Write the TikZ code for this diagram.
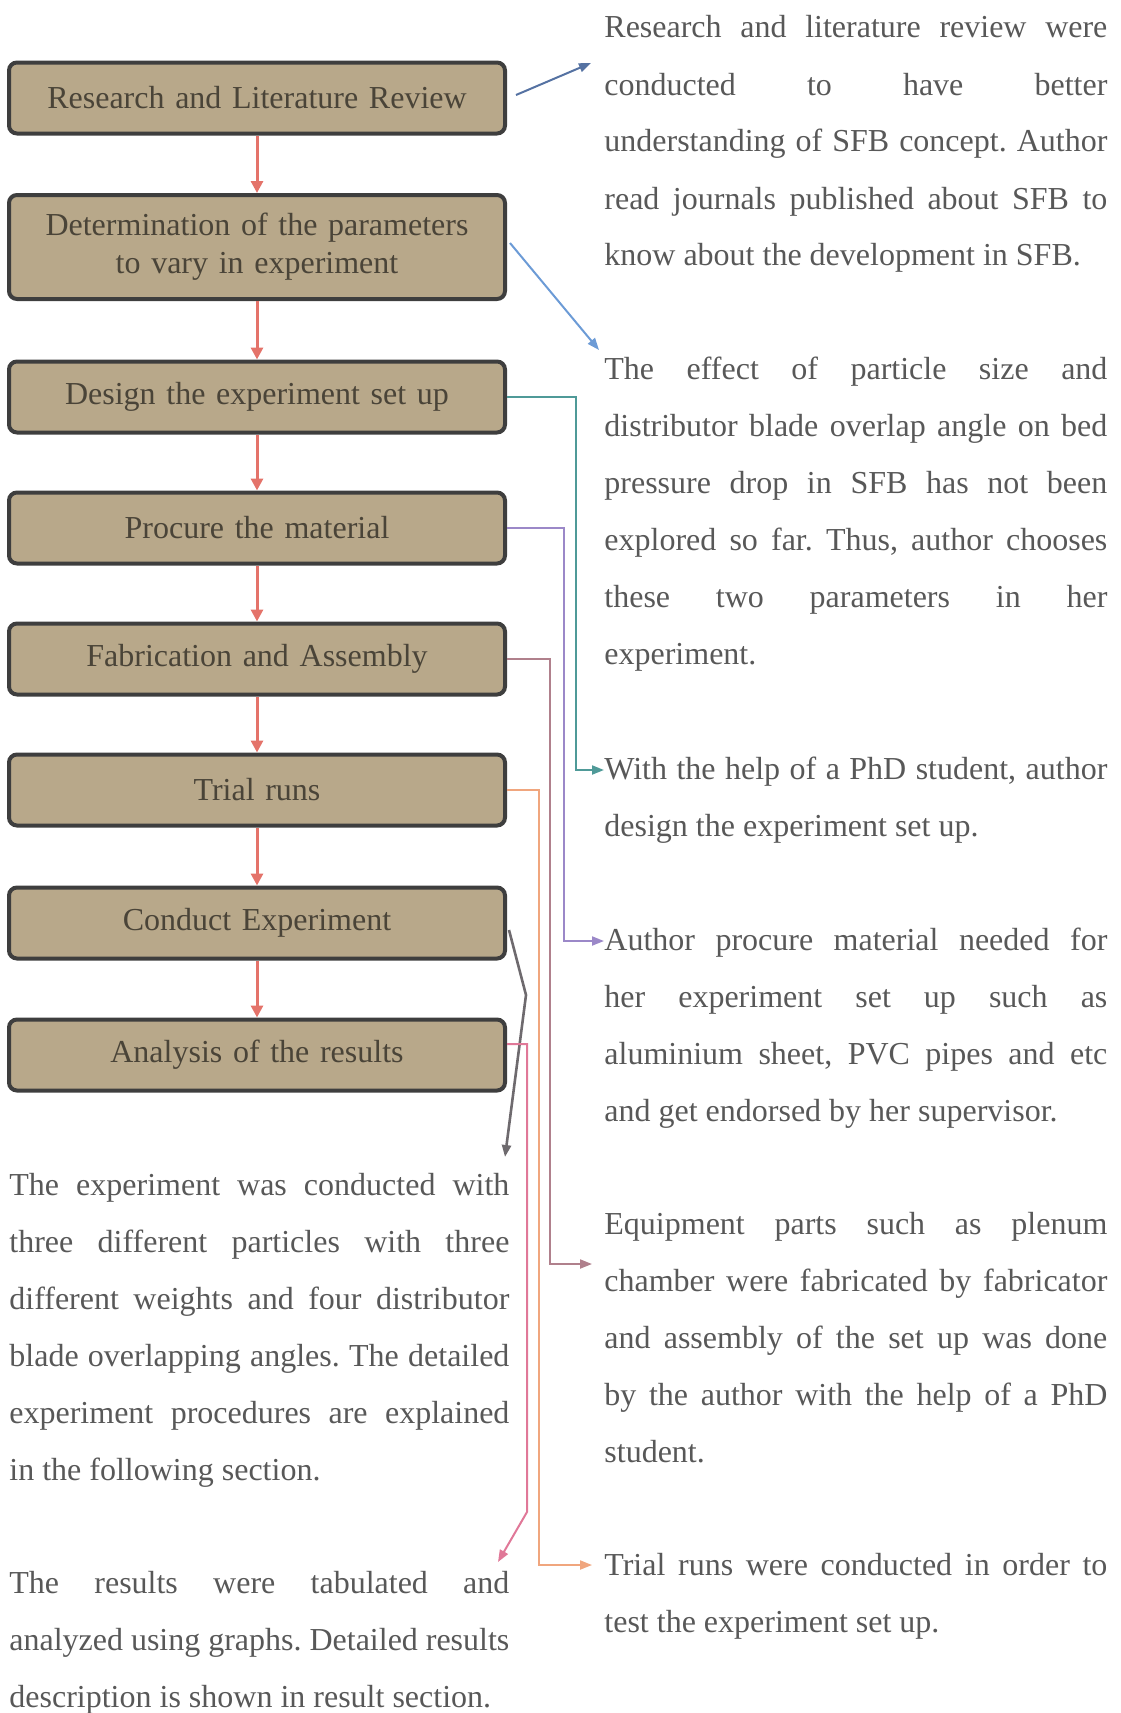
\documentclass[tikz,border=0pt]{standalone}
\usepackage{fontspec}
\setmainfont{Liberation Serif}
\usepackage{xcolor}
\usepackage{tikz}
\usetikzlibrary{calc, arrows.meta}
\tolerance=10000
\frenchspacing

\definecolor{wood}{HTML}{B8A88A}
\definecolor{boxline}{HTML}{3E3E3E}
\definecolor{boxtext}{HTML}{4A4438}
\definecolor{txtgray}{HTML}{585858}
\definecolor{flowred}{HTML}{E4736A}
\definecolor{linkA}{HTML}{5572A2}
\definecolor{linkB}{HTML}{6C9BD6}
\definecolor{linkC}{HTML}{4F9A98}
\definecolor{linkD}{HTML}{9B88C8}
\definecolor{linkE}{HTML}{B0808C}
\definecolor{linkF}{HTML}{F0A67E}
\definecolor{linkG}{HTML}{6E6A6E}
\definecolor{linkH}{HTML}{E07898}

\tikzset{
  stepbox/.style={draw=boxline, line width=2pt, rounded corners=4pt, fill=wood,
    text=boxtext, minimum width=248pt, text width=236pt, align=center,
    inner sep=0pt, font=\fontsize{16}{19}\selectfont},
  flow/.style={draw=flowred, line width=1.5pt, -{Triangle[length=6pt,width=6pt]}},
  link/.style={line width=1pt, -{Triangle[length=6pt,width=4.5pt]}},
  para/.style={text width=251.5pt, align=justify, inner sep=0pt, anchor=base west,
    text=txtgray, font=\fontsize{16}{28.5}\selectfont},
}

\begin{document}
\begin{tikzpicture}[x=0.5pt,y=-0.5pt]
      \useasboundingbox (0,0) rectangle (1120,1713);%

      \foreach \nm/\yy/\hh/\txt in {B1/98/35.5/{Research and Literature Review},
        B2/247/52/{Determination of the parameters\\to vary in experiment},
        B3/397/35.5/{Design the experiment set up}, B4/528/35.5/{Procure the material},
        B5/659/35.5/{Fabrication and Assembly}, B6/790/35.5/{Trial runs},
        B7/923/35.5/{Conduct Experiment}, B8/1055/35.5/{Analysis of the results}}%
        {\node[stepbox, minimum height=\hh pt] (\nm) at (257,\yy) {\txt};}%

      \foreach \a/\b in {B1/B2, B2/B3, B3/B4, B4/B5, B5/B6, B6/B7, B7/B8}%
        {\draw[flow] (\a) -- (\b);}%

      % descriptions
      \node[para] (T1) at (604,38) {Research and literature review were\linebreak
        conducted to have better\linebreak understanding of SFB concept. Author\linebreak
        read journals published about SFB to\linebreak know about the development in SFB.};%
      \node[para] (T2) at (604,379) {The effect of particle size and\linebreak
        distributor blade overlap angle on bed\linebreak pressure drop in SFB has not been\linebreak
        explored so far. Thus, author chooses\linebreak these two parameters in her\linebreak
        experiment.};%
      \node[para] (T3) at (604,779) {With the help of a PhD student, author\linebreak
        design the experiment set up.};%
      \node[para] (T4) at (604,950) {Author procure material needed for\linebreak
        her experiment set up such as\linebreak aluminium sheet, PVC pipes and etc\linebreak
        and get endorsed by her supervisor.};%
      \node[para] (T5) at (604,1234) {Equipment parts such as plenum\linebreak
        chamber were fabricated by fabricator\linebreak and assembly of the set up was done\linebreak
        by the author with the help of a PhD\linebreak student.};%
      \node[para] (T6) at (604,1575) {Trial runs were conducted in order to\linebreak
        test the experiment set up.};%
      \node[para, text width=250pt] (L1) at (9,1195) {The experiment was conducted with\linebreak
        three different particles with three\linebreak different weights and four distributor\linebreak
        blade overlapping angles. The detailed\linebreak experiment procedures are explained\linebreak
        in the following section.};%
      \node[para, text width=250pt] (L2) at (9,1593) {The results were tabulated and\linebreak
        analyzed using graphs. Detailed results\linebreak description is shown in result section.};%

      \coordinate (E1) at (591,63); \coordinate (E2) at (599,350);%
      \foreach \i/\x/\y/\e in {3/576/770/604, 4/564/941/604, 5/550/1264/592, 6/539/1565/592}%
        {\coordinate (V\i) at (\x,\y); \coordinate (E\i) at (\e,\y);}%
      \coordinate (K7) at (526,995); \coordinate (E7) at (505,1157);%
      \coordinate (K8) at (527,1044); \coordinate (M8) at (527,1512);%
      \coordinate (E8) at (498,1562);%

      \draw[link, linkA] ($(B1.east)+(9,-3)$) -- (E1);%
      \draw[link, linkB] ($(B2.east)+(3,-4)$) -- (E2);%
      \draw[link, linkC] (B3.east) -| (V3) -- (E3);%
      \draw[link, linkD] (B4.east) -| (V4) -- (E4);%
      \draw[link, linkE] (B5.east) -| (V5) -- (E5);%
      \draw[link, linkF] (B6.east) -| (V6) -- (E6);%
      \draw[link, linkG, line width=1.3pt] ($(B7.east)+(2,7)$) -- (K7) -- (E7);%
      \draw[link, linkH] ($(B8.east)+(0,-11)$) -- (K8) -- (M8) -- (E8);%
    \end{tikzpicture}
\end{document}
